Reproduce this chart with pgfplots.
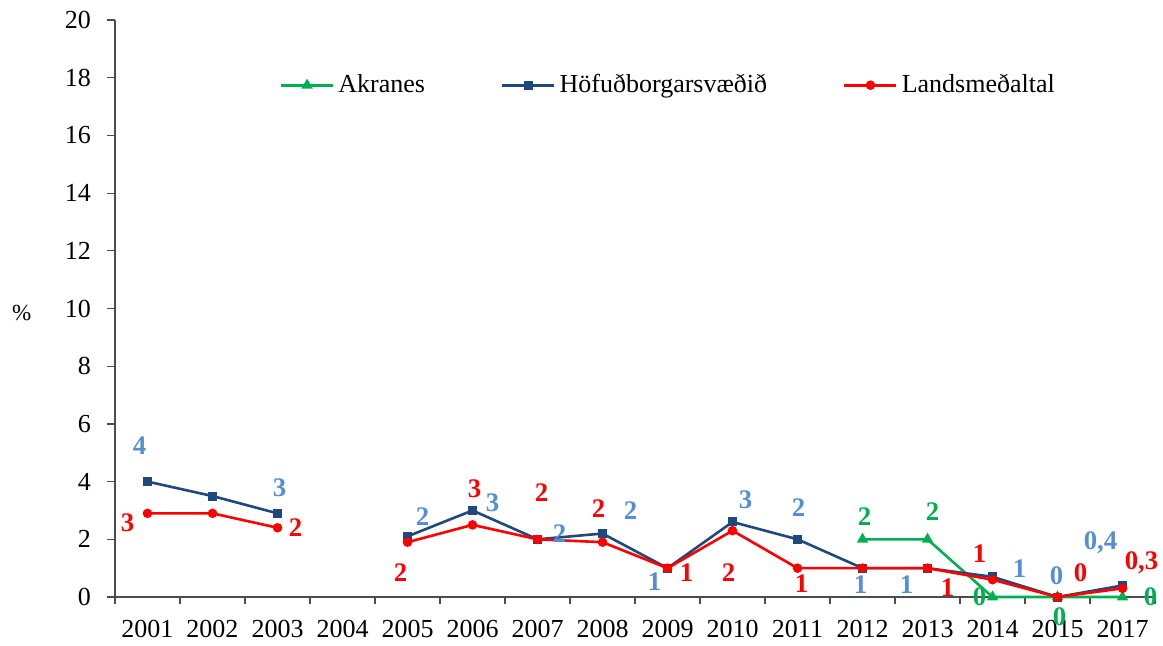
\documentclass[border=0pt]{standalone}
\usepackage{fontspec}
\setmainfont{Liberation Serif}
\usepackage{pgfplots}
\usepackage{pgfplotstable}
\pgfplotsset{compat=1.18}
\definecolor{dblue}{HTML}{1F497D}
\definecolor{lblue}{HTML}{558ED5}
\definecolor{myred}{HTML}{FF0000}
\definecolor{mygreen}{HTML}{00B050}

\pgfplotstableread{
x y
0 4.0
1 3.5
2 2.9
3 nan
4 2.1
5 3.0
6 2.0
7 2.2
8 1.0
9 2.6
10 2.0
11 1.0
12 1.0
13 0.7
14 0.0
15 0.4
}\hofud
\pgfplotstableread{
x y
0 2.9
1 2.9
2 2.4
3 nan
4 1.9
5 2.5
6 2.0
7 1.9
8 1.0
9 2.3
10 1.0
11 1.0
12 1.0
13 0.6
14 0.0
15 0.3
}\lands
\pgfplotstableread{
x y
11 2
12 2
13 0
14 0
15 0
}\akranes

\pgfplotstableread{
x y lab dx dy
0 4.0 4 -4 18
2 2.9 3 1 13
4 2.1 2 7.5 10
5 3.0 3 10 4
6 2.0 2 11 3
7 2.2 2 14 11.5
8 1.0 1 -6.5 -6.5
9 2.6 3 6.5 11
10 2.0 2 0.5 16
11 1.0 1 -1 -8
12 1.0 1 -10.5 -8
13 0.7 1 13.5 4
14 0.0 0 -0.5 10.5
15 0.4 0,4 -11 21.5
}\hofudlab
\pgfplotstableread{
x y lab dx dy
0 2.9 3 -10 -4.5
2 2.4 2 9 0
4 1.9 2 -3.5 -15
5 2.5 3 1 18
6 2.0 2 2 23.5
7 1.9 2 -2 17
8 1.0 1 9.5 -2
9 2.3 2 -2 -21
10 1.0 1 2 -7.5
12 1.0 1 10 -9.5
13 0.6 1 -6.5 13
14 0.0 0 11.5 12
15 0.3 0,3 9.5 13
}\landslab
\pgfplotstableread{
x y lab dx dy
11 2 2 1 11.5
12 2 2 2.5 14
13 0 0 -6.5 0
14 0 0 1 -10
15 0 0 14 0
}\akraneslab

\newcommand{\fs}{\fontsize{13}{15}\selectfont}
\newcommand{\lfs}{\fontsize{13.4}{15}\selectfont}

\pgfplotsset{
  lbl/.style={draw=none, mark=none, forget plot,
    nodes near coords, point meta=explicit symbolic,
    visualization depends on={\thisrow{dx}\as\mydx},
    visualization depends on={\thisrow{dy}\as\mydy},
    every node near coord/.append style={anchor=center, inner sep=0pt,
      xshift=\mydx pt, yshift=\mydy pt, font=\lfs\bfseries, text=#1}},
}

\begin{document}
\begin{tikzpicture}
\useasboundingbox (-57.5pt,-24pt) rectangle (524pt,298.5pt);
\begin{axis}[
  at={(0,0)}, anchor=south west,
  scale only axis, width=520pt, height=288.5pt,
  axis lines*=left,
  axis line style={black!70, line width=0.6pt},
  xmin=-0.5, xmax=15.5, ymin=0, ymax=20,
  xtick={0,...,15},
  xticklabels={2001,2002,2003,2004,2005,2006,2007,2008,2009,2010,2011,2012,2013,2014,2015,2017},
  minor xtick={-0.5,0.5,...,15.5},
  ytick={0,2,...,20},
  tick align=outside,
  major tick length=4pt, minor tick length=3.5pt,
  major x tick style={opacity=0},
  minor x tick style={black!70, line width=0.6pt},
  major y tick style={black!70, line width=0.6pt},
  /pgf/number format/assume math mode=true,
  tick label style={font=\fs},
  yticklabel style={xshift=-4.5pt},
  xticklabel style={yshift=-4pt},
  ylabel={\%},
  ylabel style={rotate=-90, font=\fontsize{11.5}{12}\selectfont, xshift=-10pt, yshift=-2pt},
  clip=false,
  unbounded coords=jump,
  legend style={at={(0.533,0.887)}, anchor=center, draw=none, fill=none,
    legend columns=-1, font=\fs,
    /tikz/every even column/.append style={column sep=36pt}},
  legend cell align=left,
  legend image code/.code={%
    \draw[mark repeat=2,mark phase=2] plot coordinates {(0pt,0pt) (13pt,0pt) (26pt,0pt)};},
]
\addplot[mygreen, line width=1.3pt, mark=triangle*, mark size=2pt, mark options={solid}] table[x=x,y=y] {\akranes};
\addlegendentry{Akranes}
\addplot[dblue, line width=1.3pt, mark=square*, mark size=1.6pt] table[x=x,y=y] {\hofud};
\addlegendentry{Höfuðborgarsvæðið}
\addplot[myred, line width=1.3pt, mark=*, mark size=1.7pt] table[x=x,y=y] {\lands};
\addlegendentry{Landsmeðaltal}

\addplot[lbl=lblue] table[x=x,y=y,meta=lab] {\hofudlab};
\addplot[lbl=myred] table[x=x,y=y,meta=lab] {\landslab};
\addplot[lbl=mygreen] table[x=x,y=y,meta=lab] {\akraneslab};
\end{axis}
\end{tikzpicture}
\end{document}
